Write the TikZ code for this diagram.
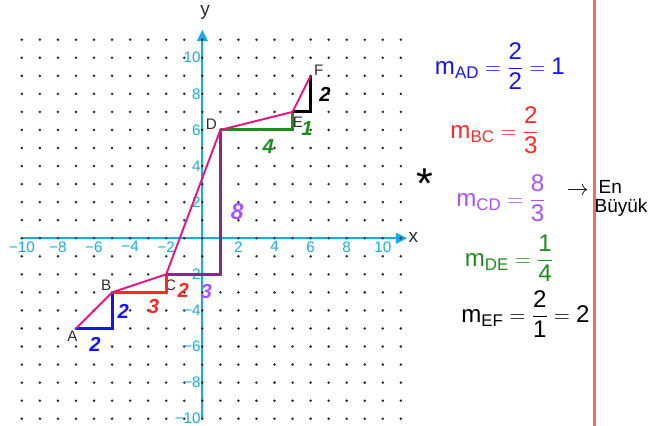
\documentclass[tikz,border=0pt]{standalone}
\usepackage{fontspec}
\setmainfont{Liberation Sans}
\usepackage{amsmath}
\usetikzlibrary{arrows.meta}
\definecolor{axiscol}{RGB}{20,170,235}
\definecolor{pinkc}{RGB}{230,20,130}
\definecolor{blueH}{RGB}{20,20,240}
\definecolor{redH}{RGB}{255,40,40}
\definecolor{purpD}{RGB}{135,40,135}
\definecolor{purpL}{RGB}{170,80,255}
\definecolor{greenH}{RGB}{30,140,30}
\definecolor{orangeL}{RGB}{232,115,90}
\definecolor{ptlab}{RGB}{45,45,45}
\newcommand{\tx}[1]{\text{#1}}
\tikzset{
  axisline/.style={axiscol, line width=1.5pt, -{Triangle[length=9pt,width=8.5pt]}},
  ticklab/.style={axiscol, font=\fontsize{12}{14}\selectfont, inner sep=0pt},
  ptlabel/.style={ptlab, font=\fontsize{12}{14}\selectfont, inner sep=0pt},
  axlabel/.style={ptlab, font=\fontsize{15}{17}\selectfont, inner sep=0pt},
  runrise/.style={line width=2.3pt, line join=miter},
  hand/.style={font=\fontsize{16}{18}\selectfont\bfseries\itshape, inner sep=0pt},
  formula/.style={font=\fontsize{19}{23}\selectfont, inner sep=0pt},
  notebox/.style={font=\fontsize{15}{17}\selectfont, inner sep=0pt},
  pinkline/.style={pinkc, line width=1.5pt, line join=round},
}
\begin{document}
\begin{tikzpicture}[x=0.5cm,y=0.5cm]
\useasboundingbox (-11.21,-10.40) rectangle (24.86,13.20);
% axes
\coordinate (xs) at (-10,0);
\coordinate (xe) at (11.35,0);
\coordinate (ys) at (0,-10);
\coordinate (ye) at (0,11.55);
\draw[axisline] (xs) -- (xe);
\draw[axisline] (ys) -- (ye);
% dots
\foreach \x in {-10,...,11}
  \foreach \y in {-10,...,11}
    \fill[black!85] (\x,\y) circle (1.1pt);
% tick labels
\foreach \k in {-10,-8,-6,-4,-2,2,4,6,8,10}
  \node[ticklab, anchor=north] (xt\k) at (\k,-0.16) {\ifnum\k<0 −\number-\k\else\k\fi};
\foreach \k in {-10,-8,-6,-4,-2,2,4,6,8,10}
  \node[ticklab, anchor=east] (yt\k) at (-0.08,\k) {\ifnum\k<0 −\number-\k\else\k\fi};
\node[axlabel] (ylab) at (0.15,12.5) {y};
\node[axlabel] (xlab) at (11.7,0.05) {x};
% points
\coordinate (A) at (-7,-5);
\coordinate (B) at (-5,-3);
\coordinate (C) at (-2,-2);
\coordinate (D) at (1,6);
\coordinate (E) at (5,7);
\coordinate (F) at (6,9);
\coordinate (cAB) at (-5,-5);
\coordinate (cBC) at (-2,-3);
\coordinate (cCD) at (1,-2);
\coordinate (cDE) at (5,6);
\coordinate (cEF) at (6,7);
% point labels
\node[ptlabel] (lA) at (-7.2,-5.45) {A};
\node[ptlabel] (lB) at (-5.33,-2.6) {B};
\node[ptlabel] (lC) at (-1.75,-2.6) {C};
\node[ptlabel] (lD) at (0.5,6.3) {D};
\node[ptlabel] (lE) at (5.3,6.45) {E};
\node[ptlabel] (lF) at (6.45,9.3) {F};
% run / rise segments
\draw[runrise, purpD] (C) -- (cCD) -- (D);
\draw[runrise, blueH] (A) -- (cAB) -- (B);
\draw[runrise, redH] (B) -- (cBC) -- (C);
\draw[runrise, greenH] (D) -- (cDE) -- (E);
\draw[runrise, black] (E) -- (cEF) -- (F);
% polyline
\draw[pinkline] (A) -- (B) -- (C) -- (D) -- (E) -- (F);
% handwritten numbers
\node[hand, blueH] (n1) at (-5.94,-5.91) {2};
\node[hand, blueH] (n2) at (-4.38,-4.07) {2};
\node[hand, redH] (n3) at (-2.71,-3.79) {3};
\node[hand, redH] (n4) at (-1.05,-2.88) {2};
\node[hand, purpL] (n5) at (0.22,-2.96) {3};
\node[hand, purpL, font=\fontsize{18}{20}\selectfont\bfseries\itshape] (n6) at (1.94,1.5) {8};
\node[hand, greenH] (n7) at (3.65,5.07) {4};
\node[hand, greenH] (n8) at (5.8,6.1) {1};
\node[hand, black] (n9) at (6.8,7.95) {2};
% margin line
\coordinate (mt) at (21.72,13.2);
\coordinate (mb) at (21.72,-10.4);
\draw[orangeL, line width=2pt] (mt) -- (mb);
% formulas
\node[formula, blueH] (fAD) at (16.49,9.55) {$\tx{m}_{\tx{AD}}=\dfrac{\tx{2}}{\tx{2}}=\tx{1}$};
\node[formula, redH] (fBC) at (16.2,6.0) {$\tx{m}_{\tx{BC}}=\dfrac{\tx{2}}{\tx{3}}$};
\node[black, inner sep=0pt, font=\fontsize{34}{36}\selectfont] (star) at (12.35,3.0) {*};
\node[formula, purpL] (fCD) at (16.55,2.24) {$\tx{m}_{\tx{CD}}=\dfrac{\tx{8}}{\tx{3}}$};
\node[notebox, black, font=\fontsize{17}{19}\selectfont] (arr) at (20.8,2.57) {$\rightarrow$};
\node[notebox, black] (en) at (22.6,2.85) {En};
\node[notebox, black] (buyuk) at (23.2,1.68) {Büyük};
\node[formula, greenH] (fDE) at (17.0,-1.1) {$\tx{m}_{\tx{DE}}=\dfrac{\tx{1}}{\tx{4}}$};
\node[formula, black] (fEF) at (17.9,-4.2) {$\tx{m}_{\tx{EF}}=\dfrac{\tx{2}}{\tx{1}}=\tx{2}$};
\end{tikzpicture}
\end{document}
